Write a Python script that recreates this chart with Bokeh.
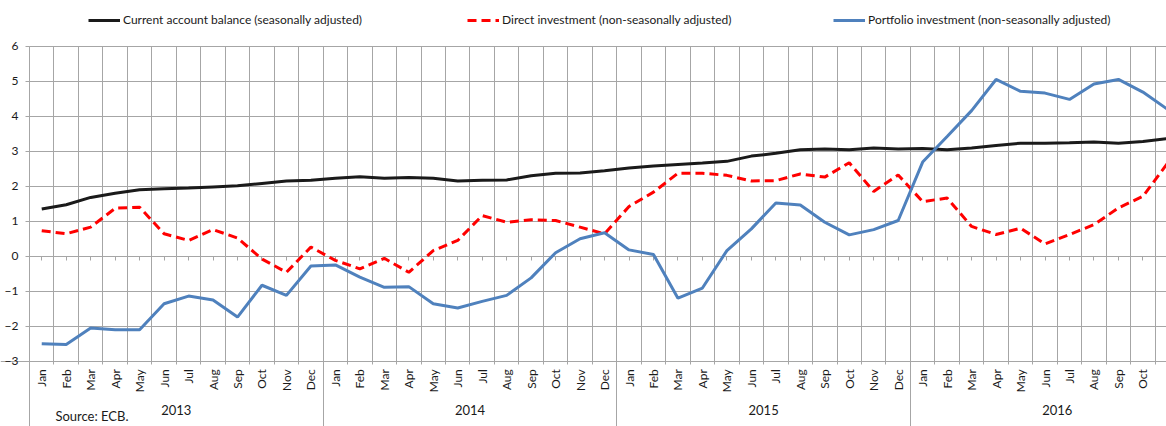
from math import pi
from bokeh.plotting import figure
from bokeh.models import FixedTicker, LinearAxis, Legend, LegendItem, Grid, Label, Range1d
from bokeh.embed import file_html
from bokeh.resources import INLINE

# ---------------- data ----------------
month_names = ["Jan", "Feb", "Mar", "Apr", "May", "Jun", "Jul", "Aug", "Sep", "Oct", "Nov", "Dec"]
years = ["2013", "2014", "2015", "2016"]
month_labels = month_names * 3 + month_names[:11]  # Jan 2013 .. Nov 2016

current_account = [1.35, 1.47, 1.68, 1.80, 1.90, 1.93, 1.95, 1.98, 2.01, 2.08, 2.15, 2.17,
                   2.23, 2.27, 2.23, 2.25, 2.23, 2.15, 2.17, 2.18, 2.30, 2.37, 2.38, 2.44,
                   2.52, 2.58, 2.62, 2.66, 2.71, 2.86, 2.94, 3.04, 3.06, 3.04, 3.09, 3.06,
                   3.08, 3.04, 3.09, 3.16, 3.23, 3.23, 3.24, 3.26, 3.23, 3.28, 3.36]
direct_inv = [0.73, 0.64, 0.83, 1.37, 1.40, 0.64, 0.45, 0.76, 0.52, -0.08, -0.46, 0.26,
              -0.12, -0.36, -0.06, -0.46, 0.16, 0.45, 1.16, 0.97, 1.04, 1.02, 0.83, 0.64,
              1.42, 1.83, 2.37, 2.37, 2.31, 2.15, 2.16, 2.35, 2.26, 2.67, 1.85, 2.32,
              1.56, 1.66, 0.85, 0.62, 0.80, 0.35, 0.62, 0.90, 1.38, 1.71, 2.65]
portfolio_inv = [-2.50, -2.52, -2.05, -2.10, -2.10, -1.36, -1.14, -1.25, -1.74, -0.83, -1.12, -0.28,
                 -0.25, -0.60, -0.89, -0.87, -1.36, -1.48, -1.29, -1.12, -0.62, 0.10, 0.50, 0.67,
                 0.18, 0.05, -1.20, -0.91, 0.16, 0.78, 1.52, 1.46, 0.97, 0.61, 0.76, 1.02,
                 2.69, 3.42, 4.16, 5.05, 4.71, 4.66, 4.48, 4.92, 5.05, 4.69, 4.20]
y_ticks = [-3, -2, -1, 0, 1, 2, 3, 4, 5, 6]
series_names = ["Current account balance (seasonally adjusted)",
                "Direct investment (non-seasonally adjusted)",
                "Portfolio investment (non-seasonally adjusted)"]

# ---------------- layout helpers ----------------
n = len(month_labels)
x = list(range(n))
boundaries = [i - 0.5 for i in range(n + 1)]
year_bounds = [12 * k - 0.5 for k in range(len(years))]
year_centers = [12 * k + 5.5 for k in range(len(years))]

FONT = "Lato"
GRID = "#a6a6a6"
TXT = "#1a1a1a"
W, H = 1166, 426

p = figure(width=W, height=H, output_backend="svg", toolbar_location=None,
           x_range=Range1d(-1.685, 45.965), y_range=Range1d(-4.866, 7.306),
           min_border=0, min_border_left=0, min_border_right=0,
           min_border_top=0, min_border_bottom=0,
           outline_line_color=None, background_fill_color="white")

# y axis placed at left edge of the category area
ya = p.yaxis[0]
ya.fixed_location = -0.5
ya.ticker = FixedTicker(ticks=y_ticks)
ya.bounds = (-6, 6)
ya.axis_line_color = GRID
ya.major_tick_line_color = GRID
ya.major_tick_out = 4
ya.major_tick_in = 0
ya.minor_tick_line_color = None
ya.major_label_standoff = 7
ya.major_label_text_font = FONT
ya.major_label_text_font_size = "12px"
ya.major_label_text_color = TXT

# month axis at y = -3
xa = p.xaxis[0]
xa.fixed_location = -3
xa.ticker = FixedTicker(ticks=x)
xa.major_label_overrides = {i: m for i, m in zip(x, month_labels)}
xa.major_label_orientation = pi / 2
xa.axis_line_color = GRID
xa.major_tick_line_color = None
xa.minor_tick_line_color = None
xa.major_tick_out = 0
xa.major_tick_in = 0
xa.major_label_standoff = 8
xa.major_label_text_font = FONT
xa.major_label_text_font_size = "12px"
xa.major_label_text_color = TXT

# year axis
year_axis = LinearAxis(fixed_location=-4.24,
                       ticker=FixedTicker(ticks=year_centers),
                       major_label_overrides={c: y for c, y in zip(year_centers, years)},
                       axis_line_color=None, major_tick_line_color=None,
                       minor_tick_line_color=None, major_tick_out=0, major_tick_in=0,
                       major_label_standoff=0, major_label_text_font=FONT,
                       major_label_text_font_size="13px", major_label_text_color=TXT)
p.add_layout(year_axis, "below")

# grids
p.xgrid.ticker = FixedTicker(ticks=boundaries)
p.xgrid.cross_bounds = (-3.1, 6)
p.xgrid.grid_line_color = GRID
p.ygrid.ticker = FixedTicker(ticks=y_ticks)
p.ygrid.cross_bounds = (-0.5, 100)
p.ygrid.grid_line_color = GRID

sep = Grid(dimension=0, ticker=FixedTicker(ticks=year_bounds), cross_bounds=(-6, -3),
           grid_line_color=GRID)
p.add_layout(sep)
zero_ticks = Grid(dimension=0, ticker=FixedTicker(ticks=x), cross_bounds=(-0.115, 0),
                  grid_line_color=GRID)
p.add_layout(zero_ticks)

# series
r_ca = p.line(x, current_account, line_color="#1a1a1a", line_width=3)
r_di = p.line(x, direct_inv, line_color="#ff0000", line_width=3, line_dash="9 5")
r_pi = p.line(x, portfolio_inv, line_color="#4f81bd", line_width=3)

for r, name, lx in zip([r_ca, r_di, r_pi], series_names, [88, 467, 833]):
    lg = Legend(items=[LegendItem(label=name, renderers=[r])],
                location=(lx, H - 27), orientation="horizontal",
                padding=0, margin=0, spacing=0, glyph_width=32, glyph_height=14,
                label_height=14, label_standoff=3,
                label_text_font=FONT, label_text_font_size="12px", label_text_color=TXT,
                background_fill_alpha=0, border_line_color=None)
    p.add_layout(lg)

p.add_layout(Label(x=0.56, y=-4.57, text="Source: ECB.", text_baseline="middle",
                   text_font=FONT, text_font_size="13px", text_color=TXT))

open("out.html", "w").write(file_html(p, INLINE))
